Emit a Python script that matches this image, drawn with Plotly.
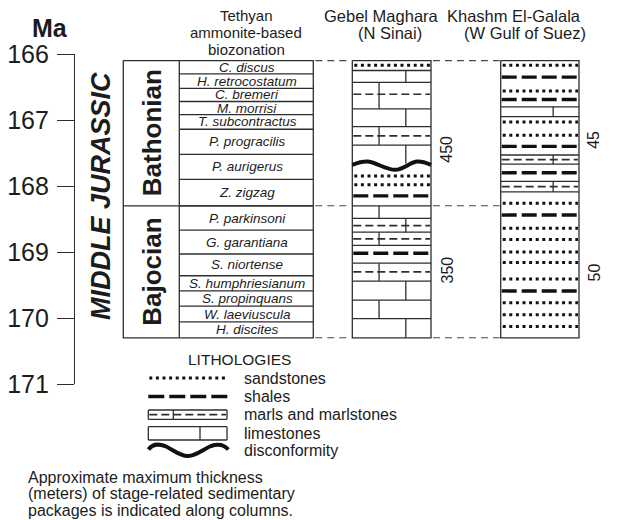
import plotly.graph_objects as go

# ---------------- data (ages in Ma) ----------------
ticks_ma = [166, 167, 168, 169, 170, 171]

stages = ["Bathonian", "Bajocian"]
stage_top = [166.10, 168.30]
stage_base = [168.30, 170.30]

zones = ["C. discus", "H. retrocostatum", "C. bremeri", "M. morrisi",
         "T. subcontractus", "P. progracilis", "P. aurigerus", "Z. zigzag",
         "P. parkinsoni", "G. garantiana", "S. niortense", "S. humphriesianum",
         "S. propinquans", "W. laeviuscula", "H. discites"]
zone_top = [166.10, 166.30, 166.52, 166.72, 166.92, 167.14, 167.52, 167.90,
            168.30, 168.67, 169.03, 169.36, 169.59, 169.82, 170.06]
zone_base = zone_top[1:] + [170.30]

# Gebel Maghara (N Sinai)
gebel_bounds = [166.25, 166.43, 166.83, 167.10, 167.38, 168.30, 168.49,
                168.70, 168.90, 169.17, 169.44, 169.73, 170.01]
gebel_sand = [166.17, 167.85, 167.98]
gebel_shale = [168.15, 169.02]
gebel_marl = [166.61, 167.24, 168.60, 168.80, 169.30]
gebel_joint_top = [166.25, 166.43, 166.83, 167.10, 167.38, 168.30, 168.49,
                   168.70, 169.17, 169.44, 169.73, 170.01]
gebel_joint_base = [166.43, 166.83, 167.10, 167.38, 167.66, 168.49, 168.70,
                    168.90, 169.44, 169.73, 170.01, 170.30]
gebel_joint_pos = [0.68, 0.34, 0.68, 0.34, 0.68, 0.34, 0.68, 0.34, 0.34,
                   0.68, 0.34, 0.68]
gebel_disconformity = 167.68
gebel_thickness = ["450", "350"]
gebel_thickness_at = [167.45, 169.28]

# Khashm El-Galala (W Gulf of Suez)
khashm_sand = [166.17, 166.56, 167.03, 167.23, 168.26, 168.64, 168.81,
               169.00, 169.16, 169.41, 169.77, 169.95, 170.13]
khashm_shale = [166.35, 166.69, 167.40, 167.80, 168.44, 169.59]
khashm_box_top = [166.80, 167.53, 167.93]
khashm_box_base = [166.95, 167.67, 168.09]
khashm_box_lith = ["limestone", "marl", "marl"]
khashm_thickness = ["45", "50"]
khashm_thickness_at = [167.30, 169.31]

legend_items = ["sandstones", "shales", "marls and marlstones", "limestones",
                "disconformity"]
note_lines = ["Approximate maximum thickness",
              "(meters) of stage-related sedimentary",
              "packages is indicated along columns."]

# ---------------- layout geometry ----------------
W, H = 617, 520
ML, MT, MB = 75, 54, 136
PW, PH = W - ML, H - MT - MB
FONT = "Liberation Sans, Arial, sans-serif"
INK = "#1c1c1c"
LINE = "#2e2e2e"

STAGE_X = (123.3, 179.3)
ZONE_X = (179.3, 313.3)
GEBEL_X = (352.3, 431.0)
KHASHM_X = (500.7, 579.0)


def px_to_paper_x(px):
    return (px - ML) / PW


def px_to_paper_y(py):
    return (H - MB - py) / PH


class Path:
    def __init__(self):
        self.x, self.y = [], []

    def seg(self, x0, y0, x1, y1):
        self.x += [x0, x1, None]
        self.y += [y0, y1, None]

    def rect(self, x0, x1, y0, y1):
        self.x += [x0, x1, x1, x0, x0, None]
        self.y += [y0, y0, y1, y1, y0, None]


solid = Path()
sand = Path()
shale = Path()
marl = Path()
conn = Path()

# stage / biozone table
solid.rect(STAGE_X[0], ZONE_X[1], stage_top[0], stage_base[-1])
solid.seg(STAGE_X[1], stage_top[0], STAGE_X[1], stage_base[-1])
for b in stage_base[:-1]:
    solid.seg(STAGE_X[0], b, ZONE_X[1], b)
for b in zone_base[:-1]:
    solid.seg(ZONE_X[0], b, ZONE_X[1], b)

# Gebel Maghara column
g0, g1 = GEBEL_X
solid.rect(g0, g1, stage_top[0], stage_base[-1])
for b in gebel_bounds:
    solid.seg(g0, b, g1, b)
for t, b, f in zip(gebel_joint_top, gebel_joint_base, gebel_joint_pos):
    xj = g0 + f * (g1 - g0)
    solid.seg(xj, t, xj, b)
for a in gebel_sand:
    sand.seg(g0 + 2, a, g1 - 1, a)
for a in gebel_shale:
    shale.seg(g0 + 1, a, g1 - 1, a)
for a in gebel_marl:
    marl.seg(g0 + 1, a, g1 - 1, a)

# Khashm El-Galala column
k0, k1 = KHASHM_X
solid.rect(k0, k1, stage_top[0], stage_base[-1])
for t, b, lith in zip(khashm_box_top, khashm_box_base, khashm_box_lith):
    solid.seg(k0, t, k1, t)
    solid.seg(k0, b, k1, b)
    xj = k0 + 0.67 * (k1 - k0)
    solid.seg(xj, t, xj, b)
    if lith == "marl":
        marl.seg(k0 + 1, (t + b) / 2, k1 - 1, (t + b) / 2)
for a in khashm_sand:
    sand.seg(k0 + 2, a, k1 - 1, a)
for a in khashm_shale:
    shale.seg(k0 + 1, a, k1 - 1, a)

# correlation lines at the stage limits
for a in [stage_top[0]] + stage_base:
    conn.seg(ZONE_X[1] + 2, a, g0 - 1, a)
    conn.seg(g1 + 2, a, k0 - 1, a)

fig = go.Figure()


def add_lines(p, width, dash="solid", color=LINE):
    fig.add_trace(go.Scatter(x=p.x, y=p.y, mode="lines", hoverinfo="skip",
                             line=dict(color=color, width=width, dash=dash),
                             showlegend=False))


add_lines(conn, 1.1, "7px,5px", "#4a4a4a")
add_lines(solid, 1.3)
add_lines(marl, 1.7, "8px,4px")
add_lines(shale, 3.4, "15px,5px", "#111")
add_lines(sand, 3.0, "3px,3.6px", "#111")

# disconformity surface in the Gebel Maghara section
dc = gebel_disconformity
fig.add_trace(go.Scatter(
    x=[g0, g0 + 15, g0 + 43, g0 + 65, g1],
    y=[dc, dc - 0.05, dc + 0.075, dc - 0.05, dc],
    mode="lines", line=dict(color="#111", width=4, shape="spline"),
    hoverinfo="skip", showlegend=False))

ann = []


def text(x, y, s, size, xref="x", yref="y", angle=0, xanchor="center",
         yanchor="middle"):
    ann.append(dict(x=x, y=y, xref=xref, yref=yref, text=s, showarrow=False,
                    textangle=angle, xanchor=xanchor, yanchor=yanchor,
                    borderpad=0,
                    font=dict(family=FONT, size=size, color=INK)))


def ptext(px, py, s, size, **kw):
    text(px_to_paper_x(px), px_to_paper_y(py), s, size, xref="paper",
         yref="paper", **kw)


# biozone names
zx = (ZONE_X[0] + ZONE_X[1]) / 2
for name, t, b in zip(zones, zone_top, zone_base):
    text(zx + 1, (t + b) / 2, "<i>" + name + "</i>", 13.5)

# stage names
for name, t, b in zip(stages, stage_top, stage_base):
    text(152, (t + b) / 2, "<b>" + name + "</b>", 26, angle=-90)

text(101, 168.15, "<b><i>MIDDLE JURASSIC</i></b>", 27, angle=-90)

for s, a in zip(gebel_thickness, gebel_thickness_at):
    text(447, a, s, 16, angle=-90)
for s, a in zip(khashm_thickness, khashm_thickness_at):
    text(594, a, s, 16, angle=-90)

# headers
ptext(50, 28, "<b>Ma</b>", 25)
for s, py in zip(["Tethyan", "ammonite-based", "biozonation"], [16, 33, 50]):
    ptext(246, py, s, 15)
ptext(381, 16, "Gebel Maghara", 16.5)
ptext(390, 33, "(N Sinai)", 16.5)
ptext(514, 16, "Khashm El-Galala", 16.5)
ptext(525, 33, "(W Gulf of Suez)", 16.5)

# lithology key
ptext(239, 359, "LITHOLOGIES", 15.5)
key_rows = [378, 396.5, 414.5, 433, 450.5]
for s, py in zip(legend_items, key_rows):
    ptext(243, py, s, 16, xanchor="left")

for i, s in enumerate(note_lines):
    ptext(27, 477 + 16.5 * i, s, 16, xanchor="left")

fig.update_layout(annotations=ann)

shapes = []
KX0, KX1 = 148.3, 228.0


def pline(x0, y0, x1, y1, width, dash="solid", color=LINE):
    shapes.append(dict(type="line", xref="paper", yref="paper",
                       x0=px_to_paper_x(x0), y0=px_to_paper_y(y0),
                       x1=px_to_paper_x(x1), y1=px_to_paper_y(y1),
                       line=dict(color=color, width=width, dash=dash)))


pline(KX0 + 1, key_rows[0], KX1, key_rows[0], 3.0, "3px,3.6px", "#111")
pline(KX0, key_rows[1], KX1, key_rows[1], 3.4, "16px,5px", "#111")
# marl key box
mt, mb = 410.0, 419.3
for y_ in (mt, mb):
    pline(KX0, y_, KX1 - 1, y_, 1.3)
pline(KX0, mt, KX0, mb, 1.3)
pline(KX1 - 1, mt, KX1 - 1, mb, 1.3)
pline(173.3, mt, 173.3, mb, 1.3)
pline(KX0 + 1, (mt + mb) / 2, KX1 - 2, (mt + mb) / 2, 1.7, "8px,4px")
# limestone key box
lt, lb = 426.7, 440.0
for y_ in (lt, lb):
    pline(KX0, y_, KX1 - 1, y_, 1.3)
pline(KX0, lt, KX0, lb, 1.3)
pline(KX1 - 1, lt, KX1 - 1, lb, 1.3)
pline(200.0, lt, 200.0, lb, 1.3)

# disconformity key symbol (cubic segments, pixel space)
curve = [(148.5, 449.5), (152, 444.5), (158, 443.5), (165, 446),
         (173, 449.5), (180, 456.5), (188.3, 456), (196, 455.5),
         (203, 449.5), (211, 446), (218, 443.5), (224, 444.5), (228.3, 449.5)]
pts = ["%.5f,%.5f" % (px_to_paper_x(a), px_to_paper_y(b)) for a, b in curve]
path = "M" + pts[0]
for i in range(1, len(pts), 3):
    path += " C" + " ".join(pts[i:i + 3])
shapes.append(dict(type="path", xref="paper", yref="paper", path=path,
                   line=dict(color="#111", width=4)))

fig.update_layout(
    shapes=shapes,
    width=W, height=H,
    margin=dict(l=ML, r=0, t=MT, b=MB, pad=0),
    paper_bgcolor="white", plot_bgcolor="white",
    xaxis=dict(range=[ML, W], visible=False, fixedrange=True),
    yaxis=dict(range=[171, 166], tickvals=ticks_ma,
               ticktext=[str(t) for t in ticks_ma],
               showline=True, linecolor=LINE, linewidth=1.3,
               ticks="outside", ticklen=17, tickwidth=1.3, tickcolor=LINE,
               tickfont=dict(family=FONT, size=25, color=INK),
               ticklabelstandoff=3,
               showgrid=False, zeroline=False, fixedrange=True),
)

fig.write_html("out.html")
